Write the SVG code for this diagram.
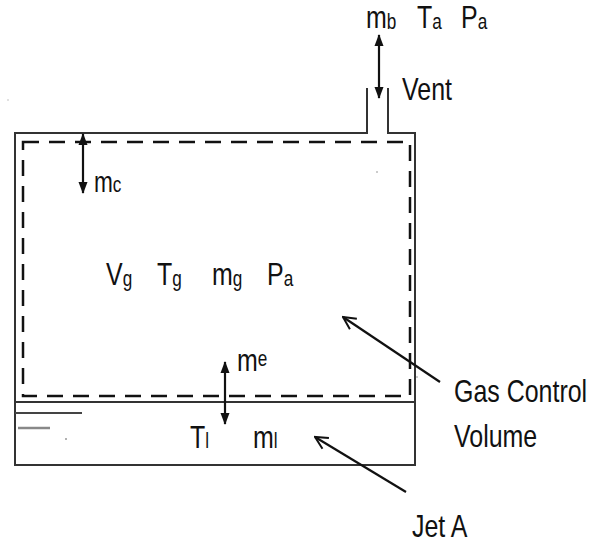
<svg xmlns="http://www.w3.org/2000/svg" width="590" height="544" viewBox="0 0 590 544">
<style>
.t{font-family:"Liberation Sans",Arial,sans-serif;font-size:32px;fill:#111}
.s{font-size:22px}
.wall{fill:none;stroke:#333;stroke-width:2}
.dash{fill:none;stroke:#111;stroke-width:2.5;stroke-dasharray:16 10}
.arr{stroke:#111;stroke-width:2.2;fill:none}
.ptr{stroke:#111;stroke-width:2.2;fill:none}
</style>
<defs>
<marker id="ah" viewBox="0 0 12 10" refX="11" refY="5" markerWidth="12" markerHeight="10" markerUnits="userSpaceOnUse" orient="auto-start-reverse">
<path d="M0,0.5 L12,5 L0,9.5 Z" fill="#111"/>
</marker>
<marker id="open" viewBox="0 0 12 12" refX="11" refY="6" markerWidth="15" markerHeight="15" markerUnits="userSpaceOnUse" orient="auto-start-reverse">
<path d="M1,1 L11,6 L1,11" fill="none" stroke="#111" stroke-width="1.6"/>
</marker>
</defs>
<g id="tank">
<path class="wall" d="M367 88 V133 H15 V465 H415 V133 H388 V88"/>
<line class="wall" x1="15" y1="402" x2="415" y2="402"/>
<line x1="15" y1="413" x2="82" y2="413" stroke="#444" stroke-width="2"/>
<line x1="18" y1="428" x2="50" y2="428" stroke="#888" stroke-width="2.5"/>
<circle cx="66" cy="439" r="1" fill="#999"/>
<circle cx="377" cy="172" r="1" fill="#bbb"/>
<circle cx="417" cy="377" r="1" fill="#bbb"/>
<circle cx="8" cy="100" r="0.8" fill="#bbb"/>
</g>
<g id="gas-control-volume">
<rect class="dash" x="23" y="142" width="387" height="254"/>
</g>
<g id="connectors">
<line class="arr" x1="379" y1="35" x2="379" y2="98" marker-start="url(#ah)" marker-end="url(#ah)"/>
<line class="arr" x1="83" y1="134" x2="83" y2="193" marker-start="url(#ah)" marker-end="url(#ah)"/>
<line class="arr" x1="225" y1="362" x2="225" y2="424" marker-start="url(#ah)" marker-end="url(#ah)"/>
<line class="ptr" x1="343" y1="317" x2="440" y2="382" marker-start="url(#open)"/>
<line class="ptr" x1="315" y1="437" x2="406" y2="492" marker-start="url(#open)"/>
</g>
<g id="labels">
<text class="t" transform="translate(366,28) scale(0.78 1)">m<tspan class="s" dy="1">b</tspan></text>
<text class="t" transform="translate(417,28) scale(0.78 1)">T<tspan class="s" dy="1">a</tspan></text>
<text class="t" transform="translate(461,28) scale(0.78 1)">P<tspan class="s" dy="1">a</tspan></text>
<text class="t" transform="translate(402,100) scale(0.78 1)">Vent</text>
<text class="t" style="font-size:29px" transform="translate(94,192) scale(0.78 1)">m<tspan class="s" dy="0">c</tspan></text>
<text class="t" transform="translate(106,285) scale(0.78 1)">V<tspan class="s" dy="1">g</tspan></text>
<text class="t" transform="translate(157,285) scale(0.78 1)">T<tspan class="s" dy="1">g</tspan></text>
<text class="t" transform="translate(212,285) scale(0.78 1)">m<tspan class="s" dy="1">g</tspan></text>
<text class="t" transform="translate(267,285) scale(0.78 1)">P<tspan class="s" dy="1">a</tspan></text>
<text class="t" transform="translate(237,371) scale(0.78 1)">m<tspan class="s" dy="-5">e</tspan></text>
<text class="t" transform="translate(190,448) scale(0.78 1)">T<tspan class="s" dy="0">l</tspan></text>
<text class="t" transform="translate(253,448) scale(0.78 1)">m<tspan class="s" dy="0">l</tspan></text>
<text class="t" transform="translate(454,402) scale(0.78 1)">Gas Control</text>
<text class="t" transform="translate(454,447) scale(0.78 1)">Volume</text>
<text class="t" transform="translate(412,537) scale(0.78 1)">Jet A</text>
</g>
</svg>
